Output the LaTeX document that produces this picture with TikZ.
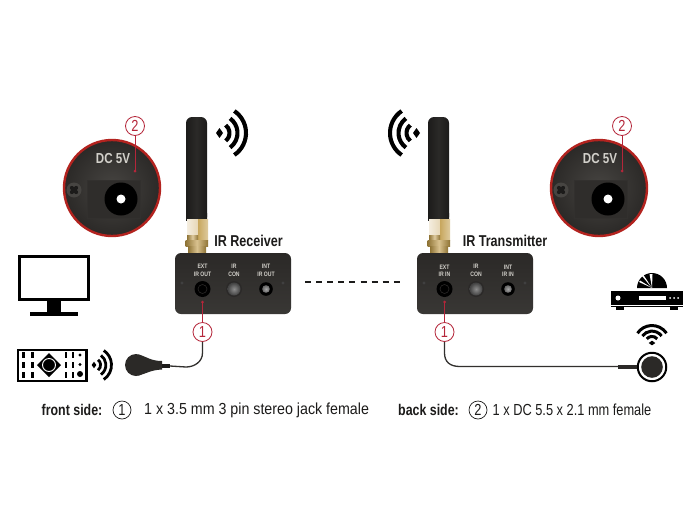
\documentclass[tikz,border=0pt]{standalone}
\usepackage{fontspec}
\setmainfont[FakeStretch=0.8]{Liberation Sans}
\newfontfamily\widerlegend[FakeStretch=0.89]{Liberation Sans}
\definecolor{housing}{HTML}{2B2927}
\definecolor{housinglight}{HTML}{474542}
\definecolor{callred}{HTML}{B5263A}
\definecolor{ringred}{HTML}{B3231F}
\definecolor{inkdark}{HTML}{1C1B1A}
\definecolor{brass}{HTML}{C8A75E}
\definecolor{brassdark}{HTML}{8F7436}
\definecolor{labelgrey}{HTML}{D2D0CA}
\tikzset{
  callout/.style={circle,draw=callred,line width=0.8pt,fill=white,text=callred,minimum size=19pt,inner sep=0pt,font=\fontsize{16}{16}\selectfont},
  calloutline/.style={draw=callred,line width=0.9pt},
  legendmark/.style={circle,draw=inkdark,line width=0.7pt,minimum size=18pt,inner sep=0pt,text=inkdark,font=\fontsize{16}{16}\selectfont},
  legendbold/.style={anchor=west,inner sep=0pt,text=inkdark,font=\fontsize{15.5}{15.5}\selectfont\bfseries},
  legendtext/.style={anchor=west,inner sep=0pt,text=inkdark,font=\fontsize{16}{16}\selectfont},
  devicetitle/.style={inner sep=0pt,text=inkdark,font=\fontsize{15.7}{15.7}\selectfont\bfseries},
  portlabel/.style={inner sep=0pt,text=labelgrey,align=center,font=\fontsize{6.4}{7.4}\selectfont\bfseries},
  disclabel/.style={inner sep=0pt,text=labelgrey,font=\fontsize{14.5}{14.5}\selectfont\bfseries},
  cable/.style={draw=housinglight!70!black,line width=1.3pt},
  antenna/.pic={
    % rubber whip
    \shade[left color=inkdark,right color=inkdark,middle color=housinglight!60!black,rounded corners=6pt]
      (0,0) -- (21,0) -- (21,106) -- (0,106) -- cycle;
    \shade[left color=inkdark,right color=inkdark,middle color=housinglight!60!black] (0,96) rectangle (21,103);
    % SMA connector
    \shade[left color=white!80!brass,right color=white!55!brass] (1,102) rectangle (12,118);
    \shade[left color=brass,right color=brass!60!white] (12,102) rectangle (22,123);
    \shade[left color=brassdark,right color=brassdark,middle color=brass!60!white] (1,118) rectangle (12,124);
    \shade[left color=brassdark,right color=brassdark,middle color=brass!70!white] (-0.5,123) rectangle (22,129);
    \shade[left color=brassdark,right color=brassdark,middle color=brass!70!white] (2,129) rectangle (20,136);
  },
  powerdisc/.pic={
    \shade[inner color=housinglight,outer color=housing] (0,0) circle[radius=48pt];
    \draw[ringred,line width=2.4pt] (0,0) circle[radius=48pt];
    \fill[housing!85!housinglight,draw=housinglight!70!black,line width=0.4pt] (-25,-8) rectangle (28,30);
    \fill[black] (9,11) circle[radius=16.5pt];
    \fill[white] (9,11) circle[radius=4.5pt];
    % mounting screw
    \fill[housinglight] (-38,2) circle[radius=7.5pt];
    \fill[inkdark] (-38,2) circle[radius=3pt];
    \foreach \a in {45,135,225,315} \fill[inkdark] ([shift={(\a:3pt)}]-38,2) circle[radius=2pt];
  },
  jack/.pic={
    \fill[black] (0,0) circle[radius=8pt];
    \draw[housinglight!60!black,line width=0.6pt] (0,0) circle[radius=4.5pt];
  },
  conlamp/.pic={
    \fill[housinglight!60!black] (0,0) circle[radius=8pt];
    \shade[inner color=white!55!black,outer color=white!25!black] (0,0) circle[radius=6.5pt];
  },
  intjack/.pic={
    \fill[black] (0,0) circle[radius=6.8pt];
    \shade[inner color=white!65!black,outer color=white!40!black] (0,0) circle[radius=3.8pt];
  },
  faceplate/.pic={
    \shade[top color=housing,bottom color=housinglight!80!black,rounded corners=6pt] (0,0) rectangle (116,61);
    \fill[black!75] (7,30) circle[radius=1.7pt];
    \fill[black!75] (108,30) circle[radius=1.7pt];
  },
}
% Radio-wave sign: tip at the given point, arcs opening towards +x of the rotated frame
\newcommand{\wavesign}[5]{%
  \begin{scope}[shift={(#1,#2)},rotate=#3,scale=#4]
    \fill[black] (-3.5,0) -- (0,5) -- (3.5,0) -- (0,-5) -- cycle;
    \draw[black,line width=#5pt] ([shift={(-52:10pt)}]0,0) arc[start angle=-52,end angle=52,radius=10pt];
    \draw[black,line width=#5pt] ([shift={(-54:18pt)}]0,0) arc[start angle=-54,end angle=54,radius=18pt];
    \draw[black,line width=#5pt] ([shift={(-56:26.5pt)}]0,0) arc[start angle=-56,end angle=56,radius=26.5pt];
  \end{scope}}
\begin{document}
\begin{tikzpicture}[x=1pt,y=-1pt]
\useasboundingbox[fill=white] (0,0) rectangle (700,530);

% receiver unit
\pic at (186,117) {antenna};
\pic at (175,253) {faceplate};
\pic at (202.5,289) {jack};
\pic at (234,289) {conlamp};
\pic at (266,289) {intjack};
\node[portlabel] (rxa) at (202.5,270.5) {EXT\\IR OUT};
\node[portlabel] (rxb) at (234,270.5) {IR\\CON};
\node[portlabel] (rxc) at (266,270.5) {INT\\IR OUT};
\node[devicetitle] (rxtitle) at (248.5,241) {IR Receiver};
\wavesign{219.5}{133}{0}{1}{4.1}

% transmitter unit
\pic at (428,117) {antenna};
\pic at (417,253) {faceplate};
\pic at (444.5,289) {jack};
\pic at (476,289) {conlamp};
\pic at (508,289) {intjack};
\node[portlabel] (txa) at (444.5,270.5) {EXT\\IR IN};
\node[portlabel] (txb) at (476,270.5) {IR\\CON};
\node[portlabel] (txc) at (508,270.5) {INT\\IR IN};
\node[devicetitle] (txtitle) at (505,241) {IR Transmitter};
\wavesign{416.5}{133}{180}{1}{4.1}

% wireless link
\coordinate (linkL) at (305,282);
\coordinate (linkR) at (400,282);
\draw[inkdark,line width=1.5pt,dash pattern=on 6pt off 5.1pt] (linkL) -- (linkR);

% power sockets
\pic at (112,188) {powerdisc};
\node[disclabel] (dcl) at (113,159) {DC 5V};
\pic at (599,188) {powerdisc};
\node[disclabel] (dcr) at (600,159) {DC 5V};

% callouts on the power sockets
\node[callout] (c2l) at (135,126) {2};
\coordinate (c2lend) at (135,171);
\draw[calloutline] (c2l) -- (c2lend);
\fill[callred] (c2lend) circle[radius=1.5pt];
\node[callout] (c2r) at (622,126) {2};
\coordinate (c2rend) at (622,171);
\draw[calloutline] (c2r) -- (c2rend);
\fill[callred] (c2rend) circle[radius=1.5pt];

% television
\draw[black,line width=3.4pt,fill=white] (19.7,256.7) rectangle (88.3,299.5);
\fill[black] (47,301) rectangle (61,312);
\fill[black] (30,312) rectangle (78,316);

% remote control
\draw[black,line width=2.2pt,fill=white] (18,350) rectangle (86.5,381);
\foreach \cx in {23.5,32.5,66,73} \foreach \cy in {355,365,375}
  \fill[black] (\cx-1.4,\cy-3.3) rectangle (\cx+1.4,\cy+3.3);
\fill[black] (37,365) -- (49,353) -- (61,365) -- (49,377) -- cycle;
\draw[white,line width=0.9pt,fill=black] (49,365) circle[radius=6.5pt];
\fill[black] (80,355) circle[radius=1.6pt];
\fill[black] (80,364.5) circle[radius=1.6pt];
\fill[black] (80,374) circle[radius=3pt];
\wavesign{94}{365}{0}{0.66}{2.8}

% receiver eye and its cable
\node[callout] (c1l) at (202.5,332) {1};
\coordinate (c1lend) at (202.5,302);
\draw[calloutline] (c1l) -- (c1lend);
\fill[callred] (c1lend) circle[radius=1.5pt];
\coordinate (eyeL) at (170,366);
\draw[cable] (c1l.south) -- ++(0,11) .. controls (202.5,362) and (194,367) .. (186,367) -- (eyeL);
\fill[housing] (136,365) circle[radius=11pt];
\fill[housing] (138,354.5) .. controls (146,356) and (150,361) .. (162,361) -- (162,369.5)
  .. controls (150,370) and (146,374) .. (138,375.5) -- cycle;
\fill[inkdark] (162,364) rectangle (170,368);

% set-top box and its sign
\fill[black] (637,288) arc[start angle=180,end angle=0,radius=15pt] -- cycle;
\fill[white] (652,288) -- (649.5,274) -- (652.5,274) -- cycle;
\fill[white] (652,288) -- (640,280.5) -- (639,282) -- cycle;
\fill[white] (652,288) -- (642,276) -- (643.5,275) -- cycle;
\fill[black] (611,291) rectangle (683,307);
\fill[black] (616,307) rectangle (624,309.5);
\fill[black] (670,307) rectangle (678,309.5);
\fill[white] (611,304.5) rectangle (683,305.3);
\fill[white] (618,298) circle[radius=2.5pt];
\fill[white] (639,296) rectangle (666,300);
\foreach \dx in {670,674,678} \fill[white] (\dx,298) circle[radius=1pt];
\wavesign{652}{343}{90}{0.66}{3}

% transmitter emitter and its cable
\node[callout] (c1r) at (444.5,332) {1};
\coordinate (c1rend) at (444.5,302);
\draw[calloutline] (c1r) -- (c1rend);
\fill[callred] (c1rend) circle[radius=1.5pt];
\node[circle,draw=black,line width=2pt,fill=white,minimum size=28.5pt,inner sep=0pt] (puck) at (652,367) {};
\fill[housing] (puck.center) circle[radius=10.8pt];
\fill[housing] (618,364.5) rectangle (637,369);
\draw[cable] (c1r.south) -- ++(0,11) .. controls (444.5,362) and (450,366.5) .. (460,366.5) -- (618,366.5);

% legend
\node[legendbold] (fs) at (41.5,410) {front side:};
\node[legendmark] (m1) at (122,410) {1};
\node[legendtext] (ft) at (144,410) {\widerlegend 1 x 3.5 mm 3 pin stereo jack female};
\node[legendbold] (bs) at (398,410) {back side:};
\node[legendmark] (m2) at (478,410) {2};
\node[legendtext] (bt) at (492.5,410) {1 x DC 5.5 x 2.1 mm female};
\end{tikzpicture}
\end{document}
